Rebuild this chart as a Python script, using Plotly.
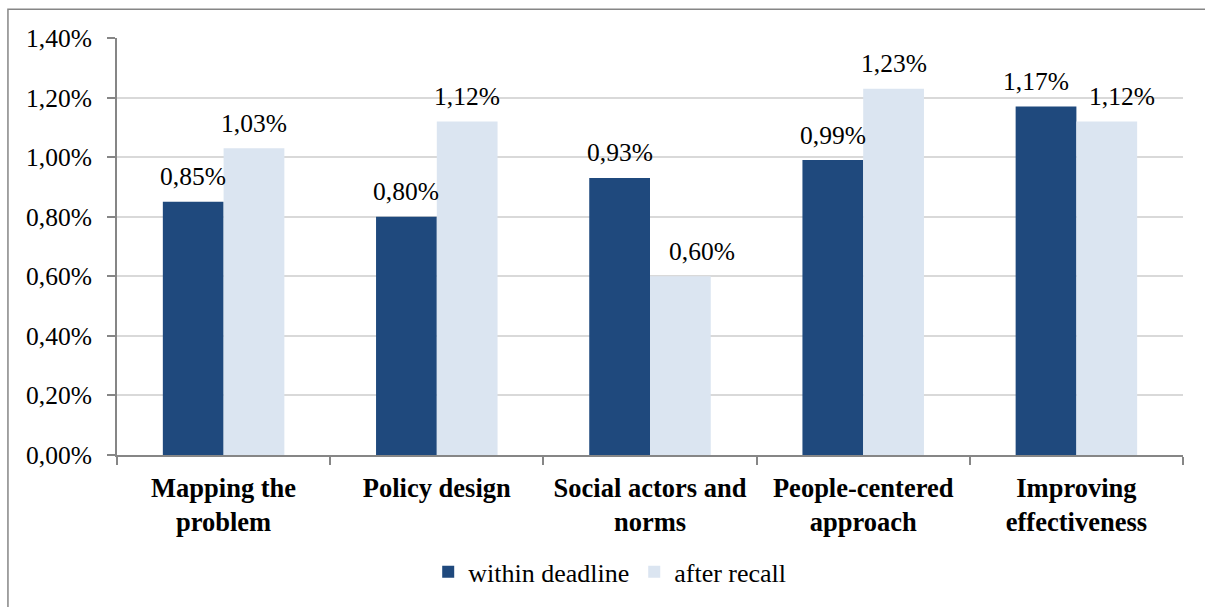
import plotly.graph_objects as go

categories = ["Mapping the<br>problem", "Policy design", "Social actors and<br>norms",
              "People-centered<br>approach", "Improving<br>effectiveness"]
within_deadline = [0.0085, 0.0080, 0.0093, 0.0099, 0.0117]
after_recall = [0.0103, 0.0112, 0.0060, 0.0123, 0.0112]
y_ticks = [0, 0.002, 0.004, 0.006, 0.008, 0.010, 0.012, 0.014]

DARK = "#1F497D"
LIGHT = "#DBE5F1"
FONT = "Liberation Serif, Times New Roman, serif"
LABEL_SIZE = 25.5

# geometry used to place value labels over each bar of a group
PLOT_W = 1205 - 117 - 22
BARGAP = 0.43
BAR_PX = PLOT_W / len(categories) * (1 - BARGAP) / 2
# small sideways nudges so neighbouring labels do not collide
nudge_within = [0, 0, 0, 0, -10]
nudge_after = [0, 0, 22, 0, 15]


def pct(v):
    return f"{v*100:.2f}%".replace(".", ",")


fig = go.Figure()
fig.add_trace(go.Bar(name="within deadline", x=categories, y=within_deadline,
                     marker=dict(color=DARK, line=dict(width=0))))
fig.add_trace(go.Bar(name="after recall", x=categories, y=after_recall,
                     marker=dict(color=LIGHT, line=dict(width=0))))

annotations = []
for series, sign, nudges in ((within_deadline, -1, nudge_within), (after_recall, 1, nudge_after)):
    for cat, v, n in zip(categories, series, nudges):
        annotations.append(dict(x=cat, y=v, xref="x", yref="y", text=pct(v),
                                showarrow=False, xanchor="center", yanchor="middle",
                                xshift=sign * BAR_PX / 2 + n, yshift=25,
                                font=dict(size=LABEL_SIZE, family=FONT, color="#000000")))

fig.update_layout(
    width=1205, height=607,
    margin=dict(l=117, r=22, t=38, b=148),
    paper_bgcolor="white", plot_bgcolor="white",
    separators=",.",
    barmode="group", bargap=BARGAP, bargroupgap=0,
    font=dict(family=FONT, size=LABEL_SIZE, color="#000000"),
    showlegend=True,
    legend=dict(orientation="h", x=0.4622, xanchor="center", y=-0.2803, yanchor="middle",
                font=dict(size=26, family=FONT), itemwidth=30,
                traceorder="normal"),
    annotations=annotations,
    shapes=[dict(type="rect", xref="paper", yref="paper",
                 x0=-0.1023, x1=1.2, y0=-0.6, y1=1.0689,
                 line=dict(color="#868686", width=1.5), layer="below")],
)

fig.update_yaxes(range=[0, 0.014], tickvals=y_ticks, tickformat=".2%",
                 showgrid=True, gridcolor="#D9D9D9", gridwidth=1.5,
                 showline=True, linecolor="#868686", linewidth=2,
                 ticks="outside", ticklen=8, tickcolor="#868686", tickwidth=2,
                 tickfont=dict(size=LABEL_SIZE, family=FONT), zeroline=False,
                 ticklabelstandoff=10)
fig.update_xaxes(showline=True, linecolor="#868686", linewidth=2,
                 ticks="outside", ticklen=8, tickcolor="#868686", tickwidth=2,
                 tickson="boundaries", showgrid=False,
                 tickfont=dict(size=26.5, family=FONT, weight="bold"), ticklabelstandoff=8)

fig.write_html("out.html")
